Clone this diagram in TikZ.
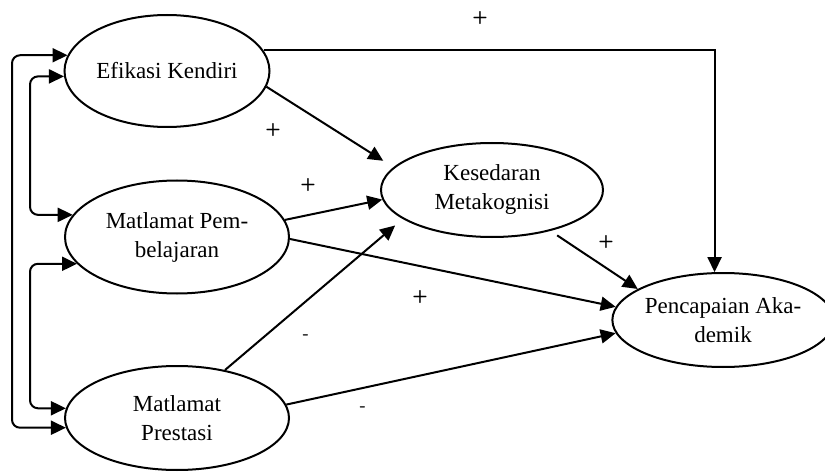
\documentclass[tikz,border=0pt]{standalone}
\usepackage{fontspec}
\setmainfont{Liberation Serif}
\usetikzlibrary{shapes.geometric,arrows.meta}

\begin{document}
\begin{tikzpicture}[x=0.5pt,y=-0.5pt,line width=1pt,
    >={Triangle[length=7.5pt,width=7pt]}]
  \useasboundingbox (0,0) rectangle (825,476);

  \begin{scope}[every node/.style={ellipse,draw,inner sep=0pt,align=center,
      font=\fontsize{11.5}{14.5}\selectfont}]
    \node[minimum width=102.5pt,minimum height=56pt] (ek) at (167,71)  {Efikasi Kendiri};
    \node[minimum width=112pt,minimum height=56.5pt] (mp) at (177,237) {Matlamat Pem-\\belajaran};
    \node[minimum width=112pt,minimum height=52pt]   (ms) at (177,418) {Matlamat\\Prestasi};
    \node[minimum width=111pt,minimum height=47pt]   (km) at (492,190) {Kesedaran\\Metakognisi};
    \node[minimum width=101pt,minimum height=47pt]   (pa) at (723,320) {Pencapaian Aka-\\demik};
  \end{scope}

  \coordinate (c1) at (12,240);
  \coordinate (c2) at (30,146);
  \coordinate (c3) at (30,335);

  \begin{scope}[every edge/.style={draw,->}]
    \path (ek.-9)  edge[shorten >=6pt] (km.167);
    \path (mp.9)   edge (km.185);
    \path (mp.-1)  edge (pa.173);
    \path (ms.45)  edge[shorten >=5pt] (km.198);
    \path (ms.7)   edge (pa.187);
    \path (km.-35) edge[shorten <=4pt] (pa.160);
  \end{scope}
  \draw[->] (ek.12) -| (pa.100);

  % correlations on the left
  \begin{scope}[rounded corners=4pt]
    \draw[<->] (ek.171) -| (c1) |- (ms.185);
    \draw[<->] (ek.183) -| (c2) |- (mp.168);
    \draw[<->] (mp.195) -| (c3) |- (ms.175);
  \end{scope}

  \begin{scope}[every node/.style={font=\fontsize{9}{10}\sffamily\bfseries}]
    \node (p1) at (480,18)  {+};
    \node (p2) at (273,130) {+};
    \node (p3) at (308,185) {+};
    \node (p4) at (420,297) {+};
    \node (p5) at (606,242) {+};
    \node (m1) at (306,337) {-};
    \node (m2) at (363,409) {-};
  \end{scope}

\end{tikzpicture}
\end{document}
